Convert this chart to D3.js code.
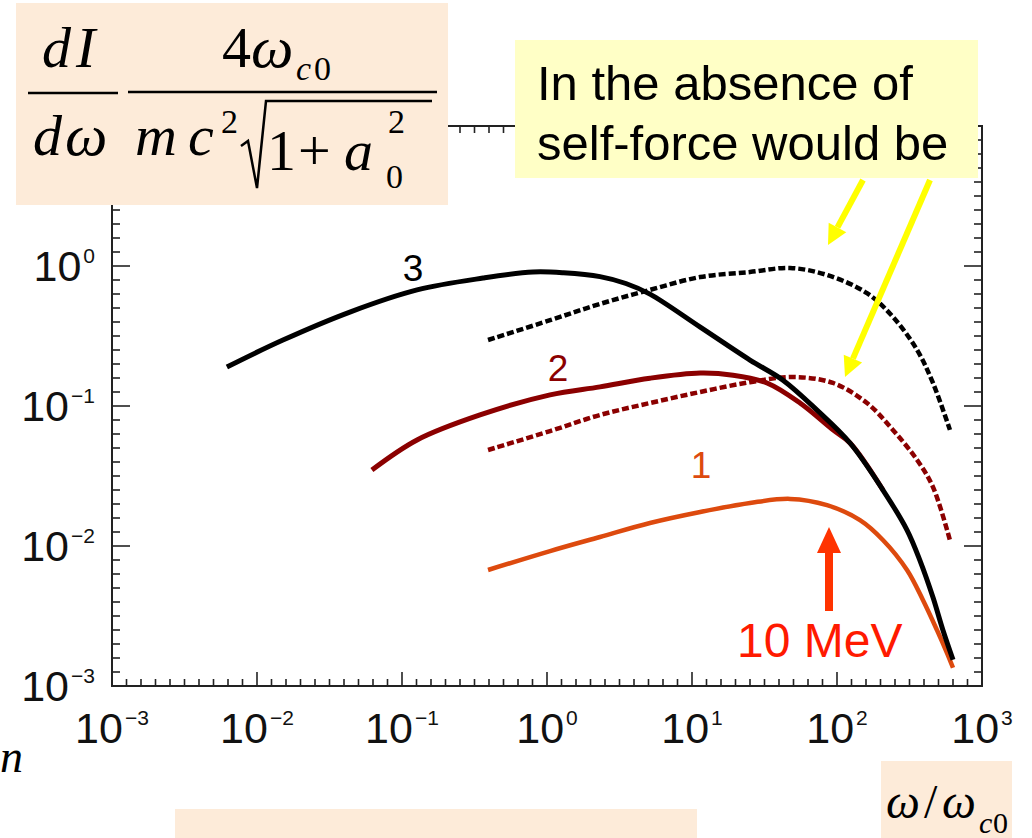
<!DOCTYPE html>
<html><head><meta charset="utf-8">
<script src="https://cdn.jsdelivr.net/npm/d3@7/dist/d3.min.js"></script>
<style>body{margin:0;background:#fff;}svg{display:block;}</style>
</head><body>
<svg id="c" width="1032" height="838"></svg>
<script>
// ---- data ----
const xTickValues = [1e-3, 1e-2, 1e-1, 1e0, 1e1, 1e2, 1e3];
const xTickExp = ["\u22123", "\u22122", "\u22121", "0", "1", "2", "3"];
const yTickValues = [1e-3, 1e-2, 1e-1, 1e0];
const yTickExp = ["\u22123", "\u22122", "\u22121", "0"];

// curve 3 (black), with self-force
const c3x = [0.0062, 0.0151, 0.0437, 0.127, 0.362, 0.80, 1.3, 2.32, 3.5, 5.13, 11.4, 25.1, 42.4, 72.8, 123, 208, 304, 373, 459, 538, 631];
const c3y = [0.19, 0.296, 0.469, 0.675, 0.82, 0.906, 0.895, 0.84, 0.75, 0.63, 0.366, 0.213, 0.153, 0.0935, 0.0544, 0.025, 0.013, 0.0079, 0.0043, 0.0025, 0.00154];
// curve 3 without self-force (dashed)
const c3dx = [0.392, 1.05, 2.32, 5.13, 11.4, 25.1, 47.4, 85.3, 161, 243, 357, 459, 601];
const c3dy = [0.296, 0.41, 0.536, 0.675, 0.834, 0.906, 0.968, 0.863, 0.64, 0.433, 0.251, 0.146, 0.0675];
// curve 2 (dark red), with self-force
const c2x = [0.062, 0.127, 0.345, 1.05, 2.32, 5.13, 11.4, 19.2, 32.9, 55.6, 93.8, 123, 208];
const c2y = [0.0349, 0.0572, 0.0863, 0.12, 0.137, 0.158, 0.172, 0.166, 0.146, 0.105, 0.0675, 0.0544, 0.025];
// curve 2 without self-force (dashed)
const c2dx = [0.392, 1.05, 2.32, 5.13, 11.4, 25.1, 49.8, 93.8, 161, 243, 357, 459, 601];
const c2dy = [0.0485, 0.0662, 0.0863, 0.105, 0.126, 0.148, 0.161, 0.146, 0.105, 0.0675, 0.0411, 0.0264, 0.011];
// curve 1 (orange)
const c1x = [0.392, 1.05, 2.32, 5.13, 11.4, 25.1, 47.4, 85.3, 144, 208, 304, 392, 490, 574, 631];
const c1y = [0.00674, 0.0092, 0.0116, 0.0146, 0.0175, 0.0203, 0.0217, 0.0196, 0.0153, 0.011, 0.00674, 0.0041, 0.0025, 0.00172, 0.00135];

const curveLabels = ["3", "2", "1"];

// ---- layout ----
const svg = d3.select("#c");
const x = d3.scaleLog().domain([1e-3, 1e3]).range([112, 982]);
const y = d3.scaleLog().domain([1e-3, 1e1]).range([686, 126]);

// frame
svg.append("rect").attr("x", 112).attr("y", 126).attr("width", 870).attr("height", 560)
  .attr("fill", "none").attr("stroke", "#222").attr("stroke-width", 2);

// minor ticks evenly spaced (10 per decade, as in the original)
function minorVals(lo, hi) {
  const out = [];
  for (let d = lo; d < hi; d++) for (let k = 1; k < 10; k++) out.push(Math.pow(10, d + k / 10));
  return out;
}
const xMinor = minorVals(-3, 3), yMinor = minorVals(-3, 1);
const tk = svg.append("g").attr("stroke", "#222").attr("stroke-width", 1.6);
xMinor.forEach(v => {
  tk.append("line").attr("x1", x(v)).attr("x2", x(v)).attr("y1", 686).attr("y2", 679);
  tk.append("line").attr("x1", x(v)).attr("x2", x(v)).attr("y1", 126).attr("y2", 133);
});
xTickValues.forEach(v => {
  tk.append("line").attr("x1", x(v)).attr("x2", x(v)).attr("y1", 686).attr("y2", 672);
  tk.append("line").attr("x1", x(v)).attr("x2", x(v)).attr("y1", 126).attr("y2", 140);
});
yMinor.forEach(v => {
  tk.append("line").attr("y1", y(v)).attr("y2", y(v)).attr("x1", 112).attr("x2", 120);
  tk.append("line").attr("y1", y(v)).attr("y2", y(v)).attr("x1", 982).attr("x2", 974);
});
[1e-3, 1e-2, 1e-1, 1e0, 1e1].forEach(v => {
  tk.append("line").attr("y1", y(v)).attr("y2", y(v)).attr("x1", 112).attr("x2", 130);
  tk.append("line").attr("y1", y(v)).attr("y2", y(v)).attr("x1", 982).attr("x2", 964);
});

// tick labels
const lblFont = "'Liberation Sans', Arial, sans-serif";
xTickValues.forEach((v, i) => {
  const t = svg.append("text").attr("x", x(v)).attr("y", 743).attr("text-anchor", "middle")
    .attr("font-family", lblFont).attr("font-size", 43).attr("fill", "#111");
  t.append("tspan").text("10");
  t.append("tspan").text(xTickExp[i]).attr("font-size", 21).attr("dy", -18).attr("dx", 2);
});
yTickValues.forEach((v, i) => {
  const t = svg.append("text").attr("x", 95).attr("y", y(v) + 15).attr("text-anchor", "end")
    .attr("font-family", lblFont).attr("font-size", 43).attr("fill", "#111");
  t.append("tspan").text("10");
  t.append("tspan").text(yTickExp[i]).attr("font-size", 21).attr("dy", -18).attr("dx", 2);
});

// curves
const line = d3.line().x(d => x(d[0])).y(d => y(d[1])).curve(d3.curveCatmullRom.alpha(0.5));
function draw(xs, ys, color, w, dash) {
  const p = svg.append("path").datum(xs.map((v, i) => [v, ys[i]])).attr("d", line)
    .attr("fill", "none").attr("stroke", color).attr("stroke-width", w).attr("stroke-linejoin", "round");
  if (dash) p.attr("stroke-dasharray", dash);
}
const cBlack = "#000", cDark = "#8b0000", cOrange = "#dd4a0e";
draw(c3dx, c3dy, cBlack, 4.5, "7,3");
draw(c2dx, c2dy, cDark, 4.5, "7,3");
draw(c1x, c1y, cOrange, 4.5);
draw(c2x, c2y, cDark, 5);
draw(c3x, c3y, cBlack, 5);

// curve labels
svg.append("text").attr("x", 413).attr("y", 281).attr("text-anchor", "middle").attr("font-family", lblFont)
  .attr("font-size", 37).attr("fill", cBlack).text(curveLabels[0]);
svg.append("text").attr("x", 558).attr("y", 381).attr("text-anchor", "middle").attr("font-family", lblFont)
  .attr("font-size", 37).attr("fill", cDark).text(curveLabels[1]);
svg.append("text").attr("x", 701).attr("y", 478).attr("text-anchor", "middle").attr("font-family", lblFont)
  .attr("font-size", 37).attr("fill", cOrange).text(curveLabels[2]);

// red arrow and 10 MeV
svg.append("rect").attr("x", 825).attr("y", 550).attr("width", 8).attr("height", 61).attr("fill", "#ff3300");
svg.append("path").attr("d", "M817,553 L829,527 L841,553 Z").attr("fill", "#ff3300");
svg.append("text").attr("x", 737).attr("y", 657).attr("font-family", lblFont).attr("font-size", 48)
  .attr("fill", "#ff1a00").text("10 MeV");

// yellow arrows
function yArrow(x1, y1, x2, y2) {
  const a = Math.atan2(y2 - y1, x2 - x1), L = 20, W = 10;
  const bx = x2 - L * Math.cos(a), by = y2 - L * Math.sin(a);
  svg.append("line").attr("x1", x1).attr("y1", y1).attr("x2", bx).attr("y2", by)
    .attr("stroke", "#ffff00").attr("stroke-width", 6);
  const px = -Math.sin(a) * W, py = Math.cos(a) * W;
  svg.append("path").attr("d", `M${x2},${y2} L${bx + px},${by + py} L${bx - px},${by - py} Z`).attr("fill", "#ffff00");
}
yArrow(863, 180, 828, 245);
yArrow(930, 180, 845, 377);

// yellow annotation box
svg.append("rect").attr("x", 515).attr("y", 40).attr("width", 463).attr("height", 138).attr("fill", "#ffffc6");
svg.append("text").attr("x", 537).attr("y", 100).attr("font-family", lblFont).attr("font-size", 49)
  .attr("fill", "#000").text("In the absence of");
svg.append("text").attr("x", 537).attr("y", 160).attr("font-family", lblFont).attr("font-size", 49)
  .attr("fill", "#000").text("self-force would be");

// formula box
const peach = "#fdebd9";
const serif = "'Liberation Serif', 'Times New Roman', serif";
svg.append("rect").attr("x", 16).attr("y", 3).attr("width", 432).attr("height", 202).attr("fill", peach);
function ft(xp, yp, txt, size, italic) {
  return svg.append("text").attr("x", xp).attr("y", yp).attr("font-family", serif)
    .attr("font-size", size).attr("font-style", italic ? "italic" : "normal").attr("fill", "#000").text(txt);
}
ft(42, 67, "d", 58, true);
ft(76, 67, "I", 58, true);
svg.append("line").attr("x1", 28).attr("x2", 118).attr("y1", 93).attr("y2", 93).attr("stroke", "#000").attr("stroke-width", 2.5);
ft(33, 155, "d", 58, true);
ft(65, 155, "\u03c9", 60, true);
ft(222, 67, "4", 58, false);
ft(251, 67, "\u03c9", 60, true);
ft(296, 80, "c", 34, true);
ft(314, 80, "0", 34, false);
svg.append("line").attr("x1", 128).attr("x2", 437).attr("y1", 92).attr("y2", 92).attr("stroke", "#000").attr("stroke-width", 2.5);
ft(135, 155, "m", 58, true);
ft(188, 155, "c", 58, true);
ft(221, 133, "2", 34, false);
svg.append("path").attr("d", "M241,146 L248,141 L257,188 L266,101 L432,101").attr("fill", "none")
  .attr("stroke", "#000").attr("stroke-width", 2.5);
ft(267, 170, "1", 58, false);
ft(298, 170, "+", 58, false);
ft(344, 170, "a", 58, true);
ft(388, 133, "2", 34, false);
ft(386, 188, "0", 34, false);

// bottom boxes
svg.append("rect").attr("x", 175).attr("y", 809).attr("width", 522).attr("height", 29).attr("fill", peach);
svg.append("rect").attr("x", 881).attr("y", 761).attr("width", 131).attr("height", 77).attr("fill", peach);
ft(886, 818, "\u03c9", 48, true);
ft(924, 818, "/", 48, false);
ft(942, 818, "\u03c9", 48, true);
ft(979, 833, "c", 30, true);
ft(993, 833, "0", 30, false);

// "n" at bottom-left
ft(0, 772, "n", 46, true);
</script>
</body></html>
